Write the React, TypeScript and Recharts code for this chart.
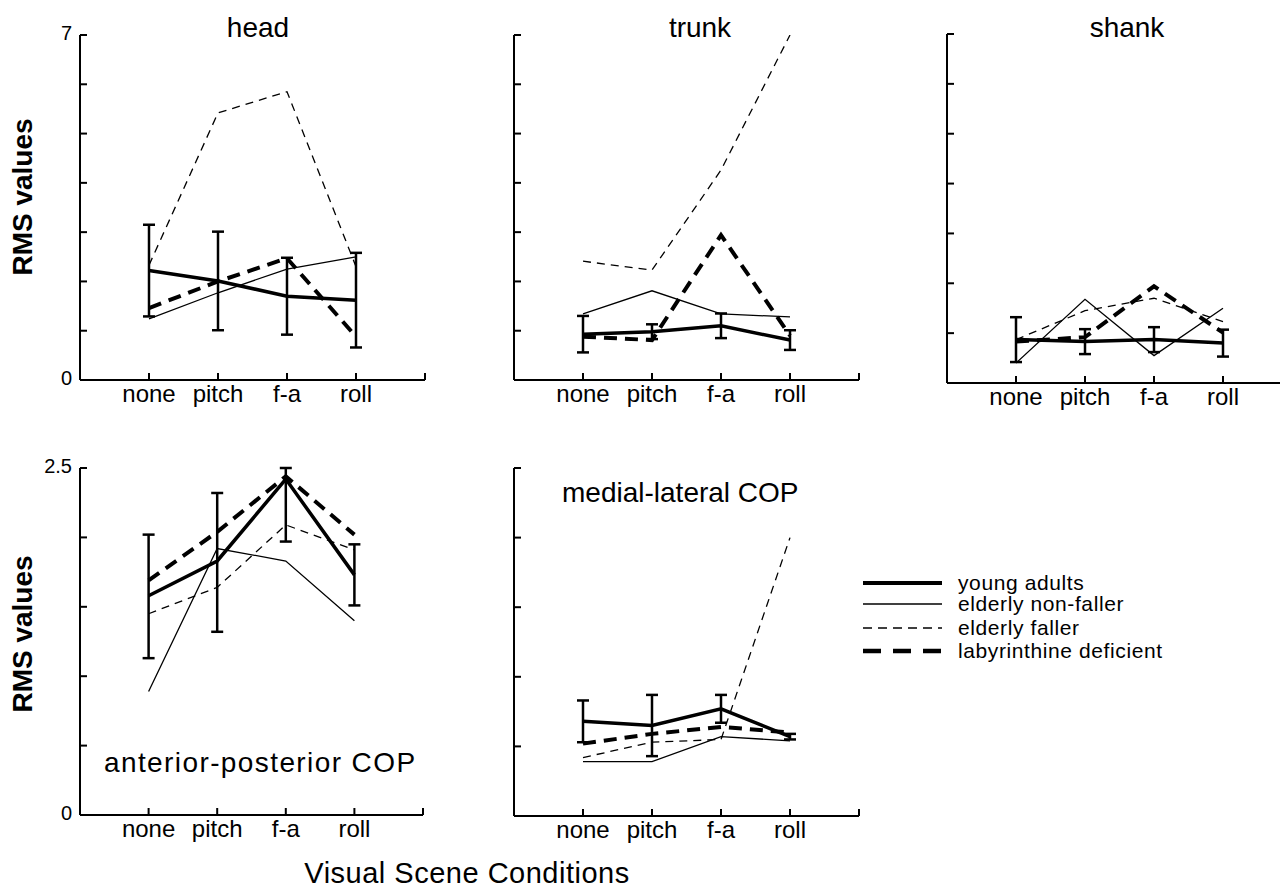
import React from "react";
import { ErrorBar, Line, LineChart, XAxis, YAxis } from "recharts";

const categories = ["none", "pitch", "f-a", "roll"];

// head
const headYoung = [2.22, 2.01, 1.7, 1.62];
const headYoungErr = [0.93, 1.0, 0.78, 0.96];
const headNonFaller = [1.24, 1.77, 2.25, 2.5];
const headFaller = [2.33, 5.42, 5.85, 2.3];
const headLab = [1.46, 2.0, 2.47, 0.88];

// trunk
const trunkYoung = [0.93, 0.98, 1.1, 0.81];
const trunkYoungErr = [0.37, 0.15, 0.25, 0.2];
const trunkNonFaller = [1.34, 1.81, 1.34, 1.28];
const trunkFaller = [2.41, 2.23, 4.26, 7.0];
const trunkLab = [0.88, 0.81, 2.94, 0.9];

// shank
const shankYoung = [0.87, 0.83, 0.87, 0.8];
const shankYoungErr = [0.45, 0.25, 0.25, 0.27];
const shankNonFaller = [0.4, 1.68, 0.55, 1.5];
const shankFaller = [0.87, 1.45, 1.7, 1.23];
const shankLab = [0.83, 0.92, 1.94, 1.01];

// anterior-posterior COP
const apYoung = [1.58, 1.83, 2.42, 1.73];
const apYoungErr: [number, number][] = [
  [0.45, 0.44],
  [0.51, 0.49],
  [0.45, 0.08],
  [0.22, 0.22],
];
const apNonFaller = [0.89, 1.92, 1.83, 1.4];
const apFaller = [1.45, 1.64, 2.09, 1.91];
const apLab = [1.69, 2.04, 2.44, 2.02];

// medial-lateral COP
const mlYoung = [0.68, 0.65, 0.77, 0.57];
const mlYoungErr = [0.15, 0.22, 0.1, 0.02];
const mlNonFaller = [0.39, 0.39, 0.57, 0.54];
const mlFaller = [0.42, 0.53, 0.55, 2.0];
const mlLab = [0.52, 0.59, 0.64, 0.6];

const topTicks = [0, 1, 2, 3, 4, 5, 6, 7];
const bottomTicks = [0, 0.5, 1, 1.5, 2, 2.5];

const FONT = "'Liberation Sans', Arial, sans-serif";

type Row = {
  x: number;
  young: number;
  err: number | [number, number];
  nonFaller: number;
  faller: number;
  lab: number;
};

function buildRows(
  young: number[],
  err: (number | [number, number])[],
  nonFaller: number[],
  faller: number[],
  lab: number[]
): Row[] {
  return categories.map((_, i) => ({
    x: i + 1,
    young: young[i],
    err: err[i],
    nonFaller: nonFaller[i],
    faller: faller[i],
    lab: lab[i],
  }));
}

type PanelProps = {
  axisX: number;
  plotTop: number;
  plotW: number;
  plotH: number;
  rows: Row[];
  yMax: number;
  yTicks: number[];
  yLabels?: number[];
};

function Panel({ axisX, plotTop, plotW, plotH, rows, yMax, yTicks, yLabels = [] }: PanelProps) {
  const yTick = (props: any) => {
    const { x, y, payload } = props;
    const show = yLabels.includes(payload.value);
    return (
      <g>
        <line x1={x} x2={x + 7} y1={y} y2={y} stroke="#000" strokeWidth={2} />
        {show && (
          <text
            x={x - 8}
            y={y - 2}
            textAnchor="end"
            dominantBaseline="central"
            fontSize={20}
            fontFamily={FONT}
            fill="#000"
          >
            {payload.value}
          </text>
        )}
      </g>
    );
  };

  const xTick = (props: any) => {
    const { x, y, payload } = props;
    const label = categories[payload.value - 1];
    return (
      <g>
        <line x1={x} x2={x} y1={y} y2={y - 7} stroke="#000" strokeWidth={2} />
        {label && (
          <text x={x} y={y + 22} textAnchor="middle" fontSize={24} fontFamily={FONT} fill="#000">
            {label}
          </text>
        )}
      </g>
    );
  };

  return (
    <div style={{ position: "absolute", left: axisX - 60, top: plotTop - 20 }}>
      <LineChart
        width={60 + plotW + 10}
        height={20 + plotH + 40}
        data={rows}
        margin={{ top: 20, right: 10, bottom: 0, left: 0 }}
      >
        <XAxis
          type="number"
          dataKey="x"
          domain={[0, 5]}
          ticks={[1, 2, 3, 4, 5]}
          height={40}
          tickSize={0}
          tickMargin={0}
          tick={xTick}
          tickLine={false}
          axisLine={{ stroke: "#000", strokeWidth: 2 }}
          allowDataOverflow
        />
        <YAxis
          type="number"
          domain={[0, yMax]}
          ticks={yTicks}
          width={60}
          tickSize={0}
          tickMargin={0}
          tick={yTick}
          tickLine={false}
          axisLine={{ stroke: "#000", strokeWidth: 2 }}
          allowDataOverflow
          interval={0}
        />
        <Line
          dataKey="nonFaller"
          type="linear"
          stroke="#000"
          strokeWidth={1.3}
          dot={false}
          isAnimationActive={false}
        />
        <Line
          dataKey="faller"
          type="linear"
          stroke="#000"
          strokeWidth={1.3}
          strokeDasharray="8 6"
          dot={false}
          isAnimationActive={false}
        />
        <Line
          dataKey="lab"
          type="linear"
          stroke="#000"
          strokeWidth={4}
          strokeDasharray="13 8"
          dot={false}
          isAnimationActive={false}
        />
        <Line
          dataKey="young"
          type="linear"
          stroke="#000"
          strokeWidth={3.5}
          dot={false}
          isAnimationActive={false}
        >
          <ErrorBar dataKey="err" width={6} strokeWidth={2.5} stroke="#000" direction="y" />
        </Line>
      </LineChart>
    </div>
  );
}

const legendItems = [
  { name: "young adults", width: 4, dash: undefined as string | undefined },
  { name: "elderly non-faller", width: 1.5, dash: undefined },
  { name: "elderly faller", width: 1.5, dash: "9 6" },
  { name: "labyrinthine deficient", width: 4.5, dash: "18 12" },
];
const legendY = [583, 604, 628, 651];

function Text({
  children,
  style,
}: {
  children: React.ReactNode;
  style: React.CSSProperties;
}) {
  return (
    <div style={{ position: "absolute", whiteSpace: "nowrap", lineHeight: 1, fontFamily: FONT, color: "#000", ...style }}>
      {children}
    </div>
  );
}

export default function App() {
  const head = buildRows(headYoung, headYoungErr, headNonFaller, headFaller, headLab);
  const trunk = buildRows(trunkYoung, trunkYoungErr, trunkNonFaller, trunkFaller, trunkLab);
  const shank = buildRows(shankYoung, shankYoungErr, shankNonFaller, shankFaller, shankLab);
  const ap = buildRows(apYoung, apYoungErr, apNonFaller, apFaller, apLab);
  const ml = buildRows(mlYoung, mlYoungErr, mlNonFaller, mlFaller, mlLab);

  return (
    <div
      style={{
        position: "absolute",
        left: 0,
        top: 0,
        width: 1280,
        height: 892,
        background: "#fff",
        overflow: "hidden",
        fontFamily: FONT,
      }}
    >
      <Panel axisX={80} plotTop={35} plotW={345} plotH={345} rows={head} yMax={7} yTicks={topTicks} yLabels={[0, 7]} />
      <Panel axisX={514} plotTop={35} plotW={345} plotH={345} rows={trunk} yMax={7} yTicks={topTicks} />
      <Panel axisX={947} plotTop={34} plotW={345} plotH={349} rows={shank} yMax={7} yTicks={topTicks} />
      <Panel axisX={80} plotTop={468} plotW={343} plotH={347} rows={ap} yMax={2.5} yTicks={bottomTicks} yLabels={[0, 2.5]} />
      <Panel axisX={514} plotTop={468} plotW={345} plotH={348} rows={ml} yMax={2.5} yTicks={bottomTicks} />

      <Text style={{ left: 258, top: 28, fontSize: 28, transform: "translate(-50%, -50%)" }}>head</Text>
      <Text style={{ left: 700, top: 28, fontSize: 28, transform: "translate(-50%, -50%)" }}>trunk</Text>
      <Text style={{ left: 1127, top: 28, fontSize: 28, transform: "translate(-50%, -50%)" }}>shank</Text>
      <Text style={{ left: 562, top: 493, fontSize: 28, transform: "translate(0, -50%)" }}>medial-lateral COP</Text>
      <Text style={{ left: 104, top: 763, fontSize: 28, letterSpacing: 1.4, transform: "translate(0, -50%)" }}>
        anterior-posterior COP
      </Text>

      <Text style={{ left: 23, top: 197, fontSize: 28, fontWeight: "bold", transform: "translate(-50%, -50%) rotate(-90deg)" }}>
        RMS values
      </Text>
      <Text style={{ left: 23, top: 634, fontSize: 28, fontWeight: "bold", transform: "translate(-50%, -50%) rotate(-90deg)" }}>
        RMS values
      </Text>
      <Text style={{ left: 467, top: 873, fontSize: 29, letterSpacing: 0.5, transform: "translate(-50%, -50%)" }}>
        Visual Scene Conditions
      </Text>

      <svg style={{ position: "absolute", left: 0, top: 0 }} width={1280} height={892}>
        {legendItems.map((item, i) => (
          <line
            key={item.name}
            x1={863}
            x2={942}
            y1={legendY[i]}
            y2={legendY[i]}
            stroke="#000"
            strokeWidth={item.width}
            strokeDasharray={item.dash}
          />
        ))}
      </svg>
      {legendItems.map((item, i) => (
        <Text
          key={item.name}
          style={{ left: 958, top: legendY[i], fontSize: 21, lineHeight: "18px", letterSpacing: 0.6, transform: "translate(0, -50%)" }}
        >
          {item.name}
        </Text>
      ))}
    </div>
  );
}
